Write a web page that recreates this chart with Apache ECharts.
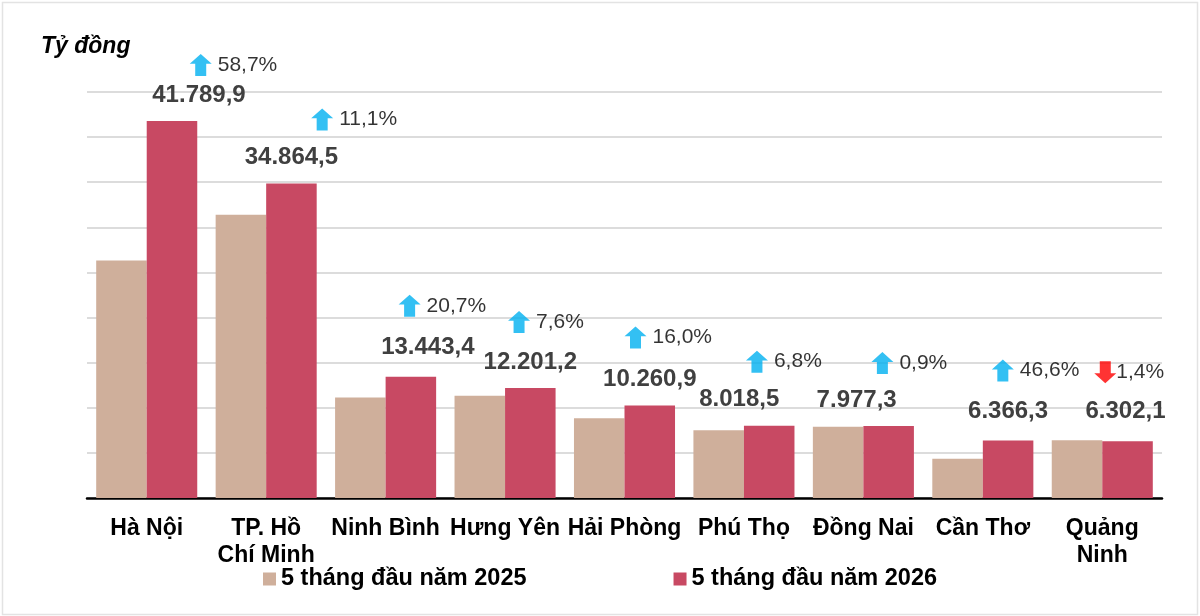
<!DOCTYPE html>
<html>
<head>
<meta charset="utf-8">
<script src="https://cdn.jsdelivr.net/npm/echarts@6/dist/echarts.min.js"></script>
<style>
html,body{margin:0;padding:0;background:#fff;}
#chart{width:1200px;height:616px;}
</style>
</head>
<body>
<div id="chart"></div>
<script>
const categories = ['Hà Nội', 'TP. Hồ\nChí Minh', 'Ninh Bình', 'Hưng Yên', 'Hải Phòng', 'Phú Thọ', 'Đồng Nai', 'Cần Thơ', 'Quảng\nNinh'];
const values2025 = [26333, 31381, 11138, 11339, 8846, 7508, 7906, 4343, 6392];
const values2026 = [41789.9, 34864.5, 13443.4, 12201.2, 10260.9, 8018.5, 7977.3, 6366.3, 6302.1];
const growth = [58.7, 11.1, 20.7, 7.6, 16.0, 6.8, 0.9, 46.6, -1.4];
const seriesNames = ['5 tháng đầu năm 2025', '5 tháng đầu năm 2026'];
const unitLabel = 'Tỷ đồng';

// label placement nudges (layout only)
const valueLabelNudge = [[27,-1],[0,-1],[17,-4],[0,-1],[0,-1],[-30,-1],[-32,-1],[0,-4],[-2,-5]];
const growthNudge = [[54,-56],[56,-64],[24,-71],[14,-66],[11,-68],[13,-64],[19,-63],[20,-70],[3,-69]];

const FONT = '"Liberation Sans", Arial, sans-serif';
const UP = 'path://M50,0 L100,45 L75,45 L75,100 L25,100 L25,45 L0,45 Z';
const DOWN = 'path://M25,0 L75,0 L75,55 L100,55 L50,100 L0,55 L25,55 Z';

function fmtVN(v) {
  const s = v.toFixed(1).split('.');
  return s[0].replace(/\B(?=(\d{3})+(?!\d))/g, '.') + ',' + s[1];
}
function fmtPct(g) {
  return Math.abs(g).toFixed(1).replace('.', ',') + '%';
}

const bar26Data = values2026.map((v, i) => ({
  value: v,
  label: { offset: valueLabelNudge[i] }
}));
const growthData = values2026.map((v, i) => ({
  value: v,
  symbol: growth[i] >= 0 ? UP : DOWN,
  symbolOffset: growthNudge[i],
  itemStyle: { color: growth[i] >= 0 ? '#00B0F0' : '#FF0000' },
  label: { formatter: fmtPct(growth[i]), distance: growth[i] >= 0 ? 6 : 0 }
}));

const chart = echarts.init(document.getElementById('chart'), null, { renderer: 'canvas' });
chart.setOption({
  animation: false,
  backgroundColor: '#fff',
  graphic: [{
    type: 'rect', left: 0, top: 0, silent: true,
    shape: { x: 0.5, y: 0.5, width: 1195, height: 612 },
    style: { fill: 'none', stroke: '#e3e3e3', lineWidth: 1.5 }
  }],
  title: {
    text: unitLabel, left: 36, top: 30,
    textStyle: { fontFamily: FONT, fontSize: 23, fontWeight: 'bold', fontStyle: 'italic', color: '#000' }
  },
  legend: {
    data: seriesNames,
    left: 263, top: 567, padding: 0,
    itemWidth: 13, itemHeight: 13, itemGap: 147,
    icon: 'rect',
    textStyle: { fontFamily: FONT, fontSize: 23.5, fontWeight: 'bold', color: '#000' }
  },
  grid: { left: 87, right: 38, top: 92, bottom: 118, containLabel: false },
  xAxis: {
    type: 'category',
    data: categories,
    axisLine: { lineStyle: { color: '#000', width: 2.5 } },
    axisTick: { show: false },
    axisLabel: {
      interval: 0, margin: 17,
      fontFamily: FONT, fontSize: 23, fontWeight: 'bold', color: '#000', lineHeight: 27
    }
  },
  yAxis: {
    type: 'value', min: 0, max: 45000, interval: 5000,
    axisLabel: { show: false },
    axisLine: { show: false }, axisTick: { show: false },
    splitLine: { lineStyle: { color: '#dcdcdc', width: 2 } }
  },
  series: [
    {
      name: seriesNames[0], type: 'bar', data: values2025,
      barGap: '0%', barCategoryGap: '15.4%',
      itemStyle: { color: '#CFAF9B' }
    },
    {
      name: seriesNames[1], type: 'bar', data: bar26Data,
      itemStyle: { color: '#C84963' },
      label: {
        show: true, position: 'top', distance: 13,
        formatter: p => fmtVN(p.value),
        fontFamily: FONT, fontSize: 24, fontWeight: 'bold', color: '#404040'
      }
    },
    {
      name: 'growth', type: 'scatter', data: growthData,
      symbolSize: [22, 22], z: 5,
      label: {
        show: true, position: 'right', distance: 6,
        fontFamily: FONT, fontSize: 21, color: '#000'
      }
    }
  ]
});
</script>
</body>
</html>
